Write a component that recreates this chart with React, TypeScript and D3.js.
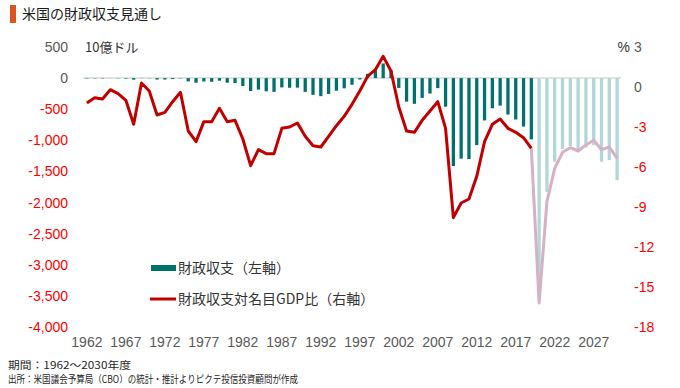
import React from "react";
import * as d3 from "d3";

const years: number[] = d3.range(1962, 2031);
const lastActualYear = 2019;

// 財政収支 (10億ドル)
const balance: number[] = [
  -7, -5, -6, -1, -4, -9, -25, 3, -3, -23,
  -23, -15, -6, -53, -74, -54, -59, -41, -74, -79,
  -128, -208, -185, -212, -221, -150, -155, -153, -221, -269,
  -290, -255, -203, -164, -107, -22, 69, 126, 236, 128,
  -158, -378, -413, -318, -248, -161, -459, -1413, -1294, -1300,
  -1077, -680, -485, -442, -585, -665, -779, -984,
  -3311, -1827, -1345, -1141, -1093, -1141, -1115, -1077, -1345, -1318, -1640,
];

// 財政収支対名目GDP比 (%)
const ratio: number[] = [
  -1.2, -0.8, -0.9, -0.2, -0.5, -1.0, -2.8, 0.3, -0.3, -2.1,
  -1.9, -1.1, -0.4, -3.3, -4.1, -2.6, -2.6, -1.6, -2.6, -2.5,
  -3.9, -5.9, -4.7, -5.0, -5.0, -3.1, -3.0, -2.7, -3.7, -4.4,
  -4.5, -3.7, -2.9, -2.2, -1.3, -0.3, 0.8, 1.3, 2.3, 1.2,
  -1.5, -3.3, -3.4, -2.5, -1.8, -1.1, -3.1, -9.8, -8.7, -8.4,
  -6.7, -4.1, -2.8, -2.4, -3.1, -3.4, -3.8, -4.6,
  -16.2, -8.6, -6.1, -4.9, -4.55, -4.8, -4.35, -4.0, -4.7, -4.5, -5.35,
];

const leftTicks: number[] = d3.range(-4000, 501, 500);
const rightTicks: number[] = d3.range(-18, 4, 3);
const xTickYears: number[] = d3.range(1962, 2031, 5);

const title = "米国の財政収支見通し";
const unitLeft = "10億ドル";
const unitRight = "%";
const legendBar = "財政収支（左軸）";
const legendLine = "財政収支対名目GDP比（右軸）";
const note1 = "期間：1962～2030年度";
const note2 = "出所：米国議会予算局（CBO）の統計・推計よりピクテ投信投資顧問が作成";

const FONT = "'Liberation Sans', 'Noto Sans CJK JP', sans-serif";
const JFONT = "'Noto Sans CJK JP', sans-serif";

export default function App() {
  const W = 680, H = 388;
  const x = d3.scaleBand<number>().domain(years).range([83, 621]).paddingInner(0.58).paddingOuter(0.29);
  const yL = d3.scaleLinear().domain([-4000, 500]).range([327, 47]);
  const yR = d3.scaleLinear().domain([-18, 3]).range([327, 47]);
  const cx = (yr: number) => (x(yr) as number) + x.bandwidth() / 2;

  const pts = years.map((yr, i) => ({ yr, v: ratio[i] }));
  const line = d3.line<{ yr: number; v: number }>().x((d) => cx(d.yr)).y((d) => yR(d.v));
  const actual = pts.filter((d) => d.yr <= lastActualYear);
  const proj = pts.filter((d) => d.yr >= lastActualYear);

  const fmtL = (v: number) => d3.format(",")(v).replace("−", "-");
  const fmtR = (v: number) => String(v);

  return (
    <svg width={W} height={H} style={{ position: "absolute", left: 0, top: 0, background: "#fff" }}>
      {/* title */}
      <rect x={10} y={5} width={6} height={18} fill="#D9541E" />
      <text x={22} y={19} fontFamily={JFONT} fontSize={14} fill="#1a1a1a">{title}</text>

      {/* units */}
      <text x={85} y={52} fontFamily={JFONT} fontSize={13} fill="#333">{unitLeft}</text>
      <text x={630} y={52} fontFamily={FONT} fontSize={14} fill="#333" textAnchor="end">{unitRight}</text>

      {/* left axis labels */}
      {leftTicks.map((t) => (
        <text key={"l" + t} x={68} y={yL(t) + 5} textAnchor="end" fontFamily={FONT} fontSize={14}
          fill={t < 0 ? "#FF0000" : "#595959"}>{fmtL(t)}</text>
      ))}
      {/* right axis labels */}
      {rightTicks.map((t) => (
        <text key={"r" + t} x={634} y={yR(t) + 5} textAnchor="start" fontFamily={FONT} fontSize={14}
          fill={t < 0 ? "#FF0000" : "#595959"}>{fmtR(t)}</text>
      ))}

      {/* zero line */}
      <line x1={83} x2={621} y1={yL(0)} y2={yL(0)} stroke="#D9D9D9" strokeWidth={1.5} />

      {/* bars */}
      {years.map((yr, i) => {
        const v = balance[i];
        const y0 = yL(0), y1 = yL(v);
        return (
          <rect key={"b" + yr} x={x(yr)} y={Math.min(y0, y1)} width={x.bandwidth()} height={Math.abs(y1 - y0)}
            fill={yr <= lastActualYear ? "#00716C" : "#B3D6D7"} />
        );
      })}

      {/* lines */}
      <path d={line(proj) || ""} fill="none" stroke="#D4B2C3" strokeWidth={3} strokeLinejoin="round" />
      <path d={line(actual) || ""} fill="none" stroke="#C00000" strokeWidth={3} strokeLinejoin="round" />

      {/* x labels */}
      {xTickYears.map((yr) => (
        <text key={"x" + yr} x={cx(yr)} y={347} textAnchor="middle" fontFamily={FONT} fontSize={14} fill="#595959">{yr}</text>
      ))}

      {/* legend */}
      <rect x={151} y={265} width={25} height={6} fill="#00716C" />
      <text x={178} y={273} fontFamily={JFONT} fontSize={14} fill="#333">{legendBar}</text>
      <line x1={150} x2={176} y1={299} y2={299} stroke="#C00000" strokeWidth={3} />
      <text x={178} y={304} fontFamily={JFONT} fontSize={14} fill="#333">{legendLine}</text>

      {/* notes */}
      <text x={8} y={369} fontFamily={JFONT} fontSize={10} fill="#262626" textLength={123} lengthAdjust="spacingAndGlyphs">{note1}</text>
      <text x={8} y={383} fontFamily={JFONT} fontSize={10} fill="#262626" textLength={290} lengthAdjust="spacingAndGlyphs">{note2}</text>
    </svg>
  );
}
